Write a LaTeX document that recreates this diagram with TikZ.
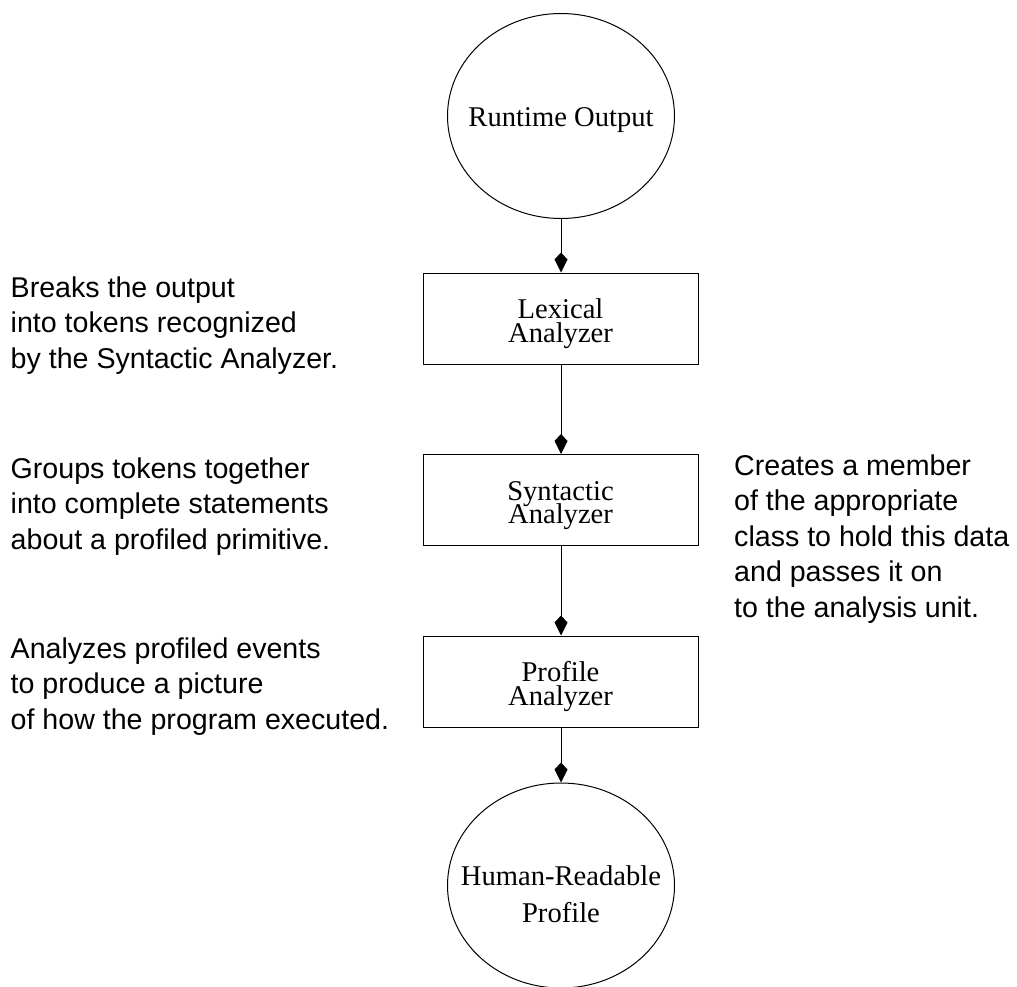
\documentclass[tikz,border=0pt]{standalone}
\usepackage{fontspec}
\setmainfont{Liberation Serif}
\newfontfamily\sidefont{Liberation Sans}
\usetikzlibrary{shapes.geometric,arrows.meta}
\newcommand\twolines[3]{\vtop{\baselineskip=#1\lineskiplimit=-100pt\lineskip=0pt\halign{\hfil##\hfil\cr#2\cr#3\cr}}}
\newcommand\leftlines[1]{\vtop{\baselineskip=35.6pt\lineskiplimit=-100pt\lineskip=0pt\halign{##\hfil\cr#1}}}
\tikzset{
  serif/.style={font=\fontsize{28.6}{23}\selectfont},
  procbox/.style={draw, line width=1pt, rectangle, minimum width=275pt, minimum height=91pt, inner sep=0pt, serif, text height=30pt, text depth=30pt},
  terminal/.style={draw, line width=1pt, ellipse, minimum width=227pt, minimum height=205pt, inner sep=0pt, serif},
  flow/.style={line width=1pt, -{Kite[length=20pt,width=13pt,inset=7pt]}},
  note/.style={inner sep=0pt, anchor=base west, font=\sidefont\fontsize{28.6}{35.6}\selectfont}
}
\begin{document}
\begin{tikzpicture}[x=1pt,y=-1pt]
\useasboundingbox (0,0) rectangle (1017,987);
\node[terminal, text height=30pt, text depth=8pt] (rt) at (561,116) {\makebox[0pt]{Runtime Output}};
\node[procbox] (lex) at (560.5,318.5) {\twolines{23.5pt}{Lexical}{Analyzer}};
\node[procbox] (syn) at (560.5,500) {\twolines{23.5pt}{Syntactic}{Analyzer}};
\node[procbox] (pro) at (560.5,681.5) {\twolines{24pt}{Profile}{Analyzer}};
\node[terminal, text height=40pt, text depth=40pt] (hr) at (561,885.5) {\makebox[0pt]{\twolines{37pt}{Human-Readable}{Profile}}};
\draw[flow] (rt) -- (rt |- lex.north);
\draw[flow] (lex.south -| rt) -- (syn.north -| rt);
\draw[flow] (syn.south -| rt) -- (pro.north -| rt);
\draw[flow] (pro.south -| rt) -- (hr);
\node[note] (n1) at (10.5,297) {\leftlines{Breaks the output\cr into tokens recognized\cr by the Syntactic Analyzer.\cr}};
\node[note] (n2) at (10.5,478) {\leftlines{Groups tokens together\cr into complete statements\cr about a profiled primitive.\cr}};
\node[note] (n3) at (10.5,658) {\leftlines{Analyzes profiled events\cr to produce a picture\cr of how the program executed.\cr}};
\node[note] (n4) at (734,475) {\leftlines{Creates a member\cr of the appropriate\cr class to hold this data\cr and passes it on\cr to the analysis unit.\cr}};
\end{tikzpicture}
\end{document}
